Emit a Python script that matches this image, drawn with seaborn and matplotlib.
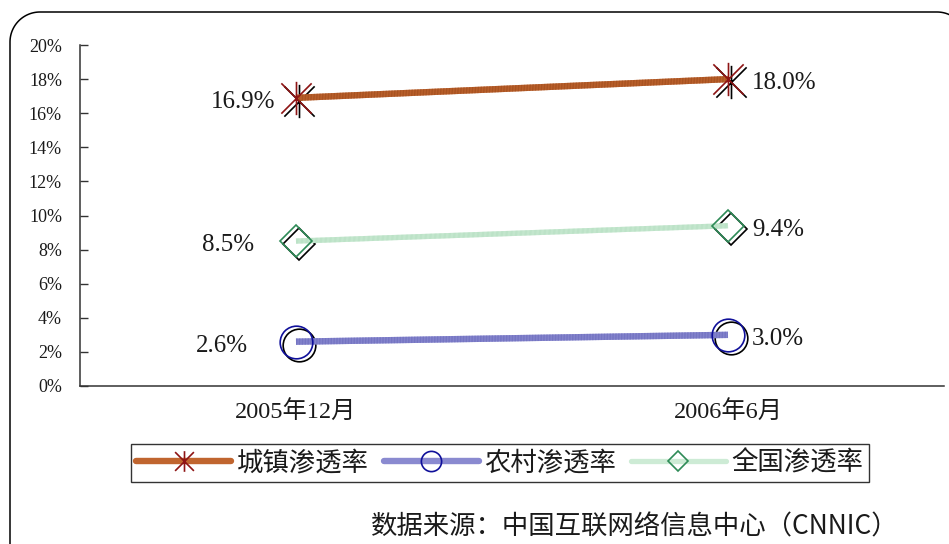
import matplotlib
matplotlib.use("Agg")
import numpy as np
import matplotlib.pyplot as plt
import matplotlib.transforms as mtransforms
from matplotlib.path import Path
from matplotlib.lines import Line2D
import seaborn as sns
import pandas as pd

# ---- data -------------------------------------------------------------
periods = ["2005年12月", "2006年6月"]
series_names = ["城镇渗透率", "农村渗透率", "全国渗透率"]
urban = [16.9, 18.0]
rural = [2.6, 3.0]
national = [8.5, 9.4]
y_ticks = [0, 2, 4, 6, 8, 10, 12, 14, 16, 18, 20]
source_note = "数据来源：中国互联网络信息中心（CNNIC）"

sns.set_theme(style="white")
plt.rcParams["font.family"] = ["Liberation Serif", "Noto Sans CJK SC", "DejaVu Sans"]
plt.rcParams["axes.unicode_minus"] = False

W, H, DPI = 949, 544, 100
fig = plt.figure(figsize=(W / DPI, H / DPI), dpi=DPI)
ax = fig.add_axes([80 / W, 1 - 386 / H, 864 / W, (386 - 45) / H])

# asterisk marker: two diagonals plus a vertical bar
star_path = Path(
    [(-1, -1), (1, 1), (-1, 1), (1, -1), (0, -1.1), (0, 1.1)],
    [Path.MOVETO, Path.LINETO, Path.MOVETO, Path.LINETO, Path.MOVETO, Path.LINETO],
)

styles = {
    "城镇渗透率": dict(values=urban, line="#C0652F", stripe="#A24E1E", lw=4.6,
                   marker=star_path, msize=24, mcolor="#8E1414", label_dx_left=-21),
    "农村渗透率": dict(values=rural, line="#8A8AD0", stripe="#6F6FBF", lw=4.6,
                   marker="o", msize=23.5, mcolor="#10109A", label_dx_left=-48),
    "全国渗透率": dict(values=national, line="#CDEBD5", stripe="#B3DEC0", lw=3.8,
                   marker="D", msize=16.5, mcolor="#2E8B57", label_dx_left=-42),
}

x_pos = list(range(len(periods)))
shadow = mtransforms.offset_copy(ax.transData, fig=fig, x=3, y=-3, units="dots")

for name, st in styles.items():
    df = pd.DataFrame({"x": x_pos, "y": st["values"]})
    # hollow marker with a dark drop shadow
    ax.plot(df["x"], df["y"], linestyle="none", marker=st["marker"], markersize=st["msize"],
            markerfacecolor="none", markeredgecolor="black", markeredgewidth=1.2,
            transform=shadow, zorder=3)
    # striped series line
    sns.lineplot(data=df, x="x", y="y", ax=ax, color=st["line"], linewidth=st["lw"],
                 solid_capstyle="butt", zorder=4)
    ax.plot(df["x"], df["y"], color=st["stripe"], linewidth=st["lw"],
            dashes=(0.12, 0.12), solid_capstyle="butt", zorder=4.1)
    ax.plot(df["x"], df["y"], linestyle="none", marker=st["marker"], markersize=st["msize"],
            markerfacecolor="none", markeredgecolor=st["mcolor"], markeredgewidth=1.2,
            zorder=5)
    # value labels: left of the first point, right of the second
    vals = st["values"]
    ax.annotate(f"{vals[0]:.1f}%", (x_pos[0], vals[0]), xytext=(st["label_dx_left"] * 0.72, -3),
                textcoords="offset points", ha="right", va="center", fontsize=18,
                color="#1a1a1a", zorder=6)
    ax.annotate(f"{vals[1]:.1f}%", (x_pos[1], vals[1]), xytext=(24 * 0.72, -3),
                textcoords="offset points", ha="left", va="center", fontsize=18,
                color="#1a1a1a", zorder=6)

ax.set_xlim(-0.5, len(periods) - 0.5)
ax.set_ylim(y_ticks[0], y_ticks[-1])
ax.set_xticks(x_pos)
ax.set_xticklabels(periods, fontsize=17.5, color="#1a1a1a")
ax.set_xticks([-0.5, 0.5, 1.5], minor=True)
ax.set_yticks(y_ticks)
ax.set_yticklabels([f"{t}%" for t in y_ticks], fontsize=13, color="#1a1a1a")
ax.tick_params(axis="x", which="major", length=0, pad=11)
ax.tick_params(axis="x", which="minor", length=6, width=1, direction="in", color="#555555")
ax.tick_params(axis="y", which="major", length=6, width=1, direction="in", color="#333333",
               pad=13, left=True)
ax.set_xlabel("")
ax.set_ylabel("")
for side in ("top", "right"):
    ax.spines[side].set_visible(False)
for side in ("left", "bottom"):
    ax.spines[side].set_color("#333333")
    ax.spines[side].set_linewidth(1.1)
ax.patch.set_alpha(0)

# legend
handles = []
for name, st in styles.items():
    lsize = st["msize"] * 0.62
    handles.append(Line2D([0], [0], color=st["line"], linewidth=st["lw"],
                          marker=st["marker"], markersize=lsize, markerfacecolor="none",
                          markeredgecolor=st["mcolor"], markeredgewidth=1.2))
leg = fig.legend(handles, series_names, loc="center", bbox_to_anchor=(500 / W, 1 - 463 / H),
                 ncol=3, frameon=True, fancybox=False, shadow=False,
                 handlelength=3.6, handletextpad=0.22, columnspacing=0.55,
                 borderpad=0.2, borderaxespad=0,
                 prop={"family": ["Noto Sans CJK SC"], "size": 19})
leg.get_frame().set_edgecolor("black")
leg.get_frame().set_linewidth(1.0)
for t in leg.get_texts():
    t.set_color("#1a1a1a")

# source note
fig.text(899 / W, 1 - 527 / H, source_note, ha="right", va="center", fontsize=19,
         family=["Noto Sans CJK SC"], color="#1a1a1a")

# rounded outer frame: left edge and top edge, with the corners that fall on the canvas
left, top, r = 10, 12, 30
pts = []
a = np.radians(np.linspace(180, 270, 30))
pts.extend(zip(left + r + r * np.cos(a), top + r + r * np.sin(a)))
pts.insert(0, (left, H + 20))
a = np.radians(np.linspace(270, 300, 12))
pts.extend(zip(937 + r * np.cos(a), top + r + r * np.sin(a)))
px = np.array([p[0] for p in pts]) / W
py = 1 - np.array([p[1] for p in pts]) / H
fig.add_artist(Line2D(px, py, transform=fig.transFigure, color="black", linewidth=1.1))

fig.savefig("out.png", dpi=DPI)
